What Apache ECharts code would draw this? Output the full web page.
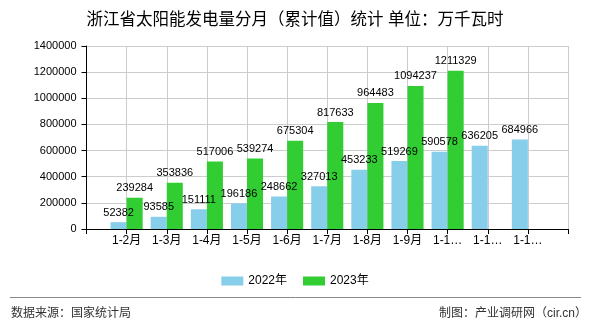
<!DOCTYPE html>
<html>
<head>
<meta charset="utf-8">
<script src="https://cdn.jsdelivr.net/npm/echarts@6/dist/echarts.min.js"></script>
<style>html,body{margin:0;padding:0;background:#fff;}#c{width:590px;height:330px;}</style>
</head>
<body>
<div id="c"></div>
<script>
var categories = ['', '1-2月', '1-3月', '1-4月', '1-5月', '1-6月', '1-7月', '1-8月', '1-9月', '1-10月', '1-11月', '1-12月', ''];
var series2022 = [null, 52382, 93585, 151111, 196186, 248662, 327013, 453233, 519269, 590578, 636205, 684966, null];
var series2023 = [null, 239284, 353836, 517006, 539274, 675304, 817633, 964483, 1094237, 1211329, null, null, null];
var seriesNames = ['2022年', '2023年'];
var yTicks = { min: 0, max: 1400000, interval: 200000 };
var titleText = '浙江省太阳能发电量分月（累计值）统计 单位：万千瓦时';
var sourceText = '数据来源：国家统计局';
var makerText = '制图：产业调研网（cir.cn）';

var FF = '"Liberation Sans", "Noto Sans CJK SC", sans-serif';
var chart = echarts.init(document.getElementById('c'), null, { renderer: 'canvas' });
var labelCfg = { show: true, position: 'top', distance: 4, color: '#000', fontSize: 11, fontFamily: FF };
chart.setOption({
  animation: false,
  title: {
    text: titleText, left: 'center', top: 7,
    textStyle: { fontSize: 16.5, fontWeight: 'normal', color: '#000', fontFamily: FF }
  },
  legend: {
    data: seriesNames, left: 'center', top: 270, icon: 'rect',
    itemWidth: 22, itemHeight: 9, itemGap: 16,
    textStyle: { fontSize: 12, color: '#000', fontFamily: FF }
  },
  grid: { left: 86.5, right: 22, top: 46, bottom: 101, containLabel: false },
  xAxis: {
    type: 'category', data: categories, boundaryGap: false,
    axisLine: { lineStyle: { color: '#000', width: 1 } },
    axisTick: { show: true, length: 5, lineStyle: { color: '#000' }, interval: 0 },
    axisLabel: { interval: 0, color: '#000', fontSize: 12, fontFamily: FF, margin: 6,
      width: 33, overflow: 'truncate', ellipsis: '…' },
    splitLine: { show: true, interval: 0, lineStyle: { color: '#ccc', width: 1 } }
  },
  yAxis: {
    type: 'value', min: yTicks.min, max: yTicks.max, interval: yTicks.interval,
    axisLine: { show: true, lineStyle: { color: '#000', width: 1 } },
    axisTick: { show: true, length: 5, lineStyle: { color: '#000' } },
    axisLabel: { color: '#000', fontSize: 11, fontFamily: FF, margin: 10,
      formatter: function (v) { return String(v); } },
    splitLine: { show: true, lineStyle: { color: '#ccc', width: 1 } }
  },
  series: [
    { name: seriesNames[0], type: 'bar', data: series2022, barGap: '0%', barCategoryGap: '20%',
      itemStyle: { color: '#87CEEB' }, label: labelCfg },
    { name: seriesNames[1], type: 'bar', data: series2023, barGap: '0%', barCategoryGap: '20%',
      itemStyle: { color: '#32CD32' }, label: labelCfg }
  ],
  graphic: [
    { type: 'line', shape: { x1: 10, y1: 297.5, x2: 581, y2: 297.5 }, style: { stroke: '#888', lineWidth: 1 } },
    { type: 'text', left: 11, top: 308, style: { text: sourceText, fill: '#333', fontSize: 12, fontFamily: FF } },
    { type: 'text', right: 3, top: 308, style: { text: makerText, fill: '#333', fontSize: 12, fontFamily: FF } }
  ]
});
</script>
</body>
</html>
